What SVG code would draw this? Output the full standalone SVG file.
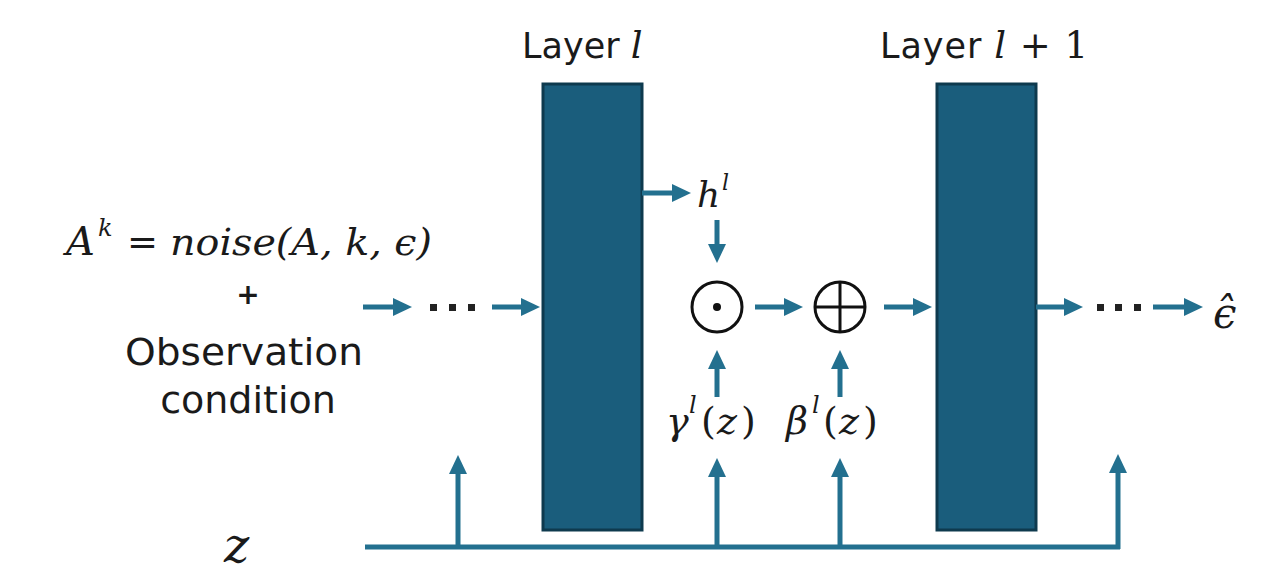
<svg xmlns="http://www.w3.org/2000/svg" width="1280" height="582" viewBox="0 0 1280 582">
<style>
.sans{font-family:"DejaVu Sans","Liberation Sans",sans-serif;fill:#1a1a1a}
.math{font-family:"DejaVu Serif","Liberation Serif",serif;font-style:italic;fill:#1a1a1a}
.up{font-family:"DejaVu Serif","Liberation Serif",serif;font-style:normal;fill:#1a1a1a}
.layer{fill:#1a5d7c;stroke:#0e3a4e;stroke-width:3}
.conn{stroke:#23708f;stroke-width:5;fill:none}
.arr{marker-end:url(#ah)}
.dot{fill:#222}
.op{fill:none;stroke:#111;stroke-width:3}
</style>
<defs>
<marker id="ah" markerUnits="userSpaceOnUse" markerWidth="20" markerHeight="20" refX="11" refY="9" orient="auto">
<path d="M0,0 L19,9 L0,18 Z" fill="#23708f"/>
</marker>
</defs>
<rect width="1280" height="582" fill="#ffffff"/>

<g id="layer-l">
<rect class="layer" x="543" y="84" width="99" height="446"/>
<text class="sans" x="522" y="58" font-size="35">Layer <tspan class="math" font-size="37">l</tspan></text>
</g>

<g id="layer-l1">
<rect class="layer" x="937" y="84" width="99" height="446"/>
<text class="sans" x="880" y="58" font-size="35" textLength="208" lengthAdjust="spacing">Layer <tspan class="math" font-size="37">l</tspan><tspan class="up" font-size="37"> + 1</tspan></text>
</g>

<g id="input">
<text class="math" x="66" y="255" font-size="40">A</text>
<text class="math" x="98" y="236" font-size="24">k</text>
<text class="up" x="127" y="255" font-size="38" textLength="31" lengthAdjust="spacingAndGlyphs">=</text>
<text class="math" x="170" y="255" font-size="38" textLength="262" lengthAdjust="spacingAndGlyphs">noise(A, k, ϵ)</text>
<text class="sans" x="248" y="304" font-size="28" font-weight="bold" text-anchor="middle">+</text>
<text class="sans" x="244" y="365" font-size="38" text-anchor="middle" textLength="238" lengthAdjust="spacingAndGlyphs">Observation</text>
<text class="sans" x="248" y="413" font-size="38" text-anchor="middle">condition</text>
</g>

<g id="h-label">
<text class="math" x="697" y="207" font-size="36">h</text>
<text class="math" x="722" y="190" font-size="22">l</text>
</g>

<g id="hadamard">
<circle class="op" cx="717" cy="307" r="25"/>
<circle cx="717" cy="307" r="4" fill="#111"/>
</g>

<g id="plus">
<circle class="op" cx="840" cy="307" r="25"/>
<line x1="815" y1="307" x2="865" y2="307" stroke="#111" stroke-width="3"/>
<line x1="840" y1="282" x2="840" y2="332" stroke="#111" stroke-width="3"/>
</g>

<g id="gamma-label">
<text class="math" x="666" y="434" font-size="38">γ</text>
<text class="math" x="689" y="413" font-size="24">l</text>
<text class="up" x="701" y="434" font-size="38">(</text>
<text class="math" x="717" y="434" font-size="38">z</text>
<text class="up" x="741" y="434" font-size="38">)</text>
</g>

<g id="beta-label">
<text class="math" x="786" y="434" font-size="38">β</text>
<text class="math" x="812" y="413" font-size="24">l</text>
<text class="up" x="823" y="434" font-size="38">(</text>
<text class="math" x="839" y="434" font-size="38">z</text>
<text class="up" x="863" y="434" font-size="38">)</text>
</g>

<g id="z-label">
<text class="math" x="224" y="562" font-size="48">z</text>
</g>

<g id="output">
<text class="math" x="1213" y="328" font-size="42">ϵ̂</text>
</g>

<g id="connectors">
<line class="conn arr" x1="363" y1="307" x2="404" y2="307"/>
<rect class="dot" x="430" y="304" width="7" height="7"/>
<rect class="dot" x="449" y="304" width="7" height="7"/>
<rect class="dot" x="468" y="304" width="7" height="7"/>
<line class="conn arr" x1="492" y1="307" x2="532" y2="307"/>
<line class="conn arr" x1="642" y1="193" x2="683" y2="193"/>
<line class="conn arr" x1="717" y1="220" x2="717" y2="255"/>
<line class="conn arr" x1="755" y1="307" x2="795" y2="307"/>
<line class="conn arr" x1="884" y1="307" x2="924" y2="307"/>
<line class="conn arr" x1="717" y1="397" x2="717" y2="358"/>
<line class="conn arr" x1="840" y1="397" x2="840" y2="358"/>
<line class="conn arr" x1="1036" y1="307" x2="1075" y2="307"/>
<rect class="dot" x="1097" y="304" width="7" height="7"/>
<rect class="dot" x="1115" y="304" width="7" height="7"/>
<rect class="dot" x="1134" y="304" width="7" height="7"/>
<line class="conn arr" x1="1153" y1="307" x2="1195" y2="307"/>
<line class="conn" x1="365" y1="547" x2="1120" y2="547"/>
<line class="conn arr" x1="458" y1="549" x2="458" y2="463"/>
<line class="conn arr" x1="717" y1="549" x2="717" y2="466"/>
<line class="conn arr" x1="840" y1="549" x2="840" y2="466"/>
<line class="conn arr" x1="1118" y1="549" x2="1118" y2="462"/>
</g>
</svg>
